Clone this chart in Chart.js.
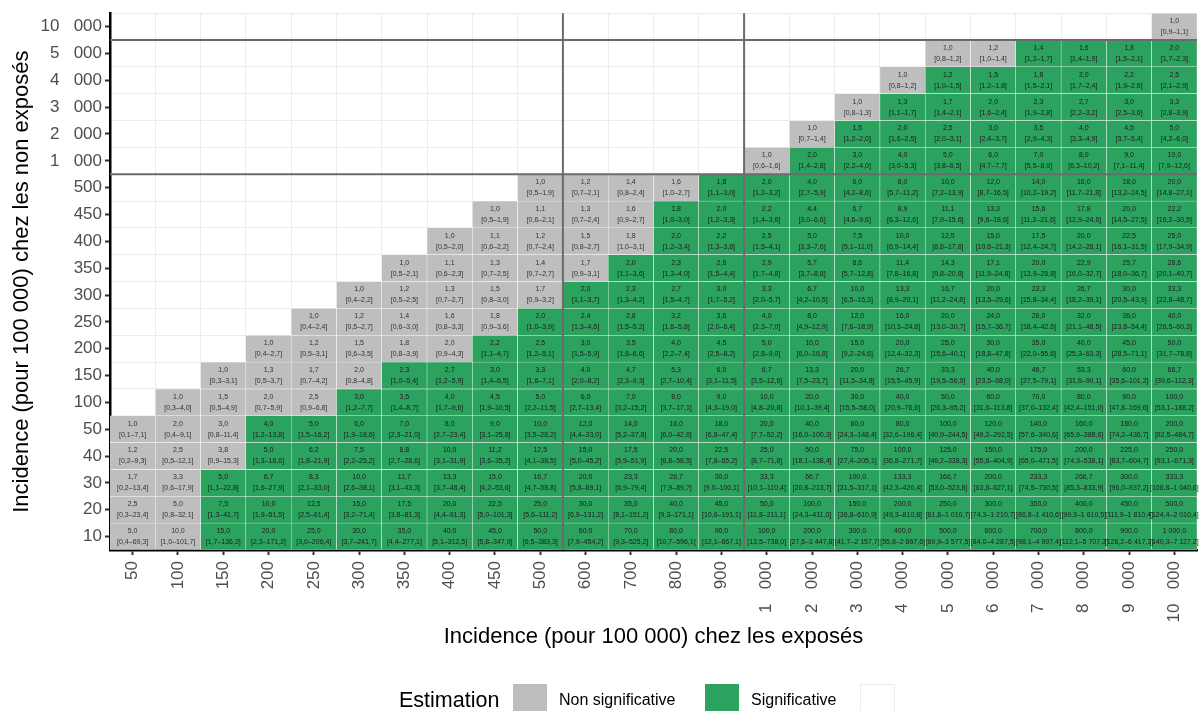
<!DOCTYPE html>
<html>
<head>
<meta charset="utf-8">
<script src="https://cdn.jsdelivr.net/npm/chart.js@4.4.1/dist/chart.umd.min.js"></script>
<style>
  html, body { margin: 0; padding: 0; background: #ffffff; }
  #cadre { width: 1202px; height: 711px; position: relative; }
</style>
</head>
<body>
<div id="cadre"><canvas id="graphique" width="1202" height="711"></canvas></div>
<script>
// Incidence (pour 100 000) chez les exposés : colonnes
const incidenceExposes = [50, 100, 150, 200, 250, 300, 350, 400, 450, 500,
  600, 700, 800, 900, 1000, 2000, 3000, 4000, 5000, 6000, 7000, 8000, 9000, 10000];
// Incidence (pour 100 000) chez les non exposés : lignes, du bas vers le haut
const incidenceNonExposes = [10, 20, 30, 40, 50, 100, 150, 200, 250, 300, 350, 400, 450, 500,
  1000, 2000, 3000, 4000, 5000, 10000];

const GRAND_ESPACE = '   ';
const etiquettesX = ['50', '100', '150', '200', '250', '300', '350', '400', '450', '500',
  '600', '700', '800', '900', '1' + GRAND_ESPACE + '000', '2' + GRAND_ESPACE + '000', '3' + GRAND_ESPACE + '000',
  '4' + GRAND_ESPACE + '000', '5' + GRAND_ESPACE + '000', '6' + GRAND_ESPACE + '000', '7' + GRAND_ESPACE + '000',
  '8' + GRAND_ESPACE + '000', '9' + GRAND_ESPACE + '000', '10' + GRAND_ESPACE + '000'];
const etiquettesY = ['10', '20', '30', '40', '50', '100', '150', '200', '250', '300', '350', '400', '450', '500',
  '1' + GRAND_ESPACE + '000', '2' + GRAND_ESPACE + '000', '3' + GRAND_ESPACE + '000', '4' + GRAND_ESPACE + '000',
  '5' + GRAND_ESPACE + '000', '10' + GRAND_ESPACE + '000'];

// Risque relatif par ligne (chaque ligne se termine à la colonne 10 000)
const rapports = [
  [5.0, 10.0, 15.0, 20.0, 25.0, 30.0, 35.0, 40.0, 45.0, 50.0, 60.0, 70.0, 80.0, 90.0, 100.0, 200.0, 300.0, 400.0, 500.0, 600.0, 700.0, 800.0, 900.0, 1000.0],
  [2.5, 5.0, 7.5, 10.0, 12.5, 15.0, 17.5, 20.0, 22.5, 25.0, 30.0, 35.0, 40.0, 45.0, 50.0, 100.0, 150.0, 200.0, 250.0, 300.0, 350.0, 400.0, 450.0, 500.0],
  [1.7, 3.3, 5.0, 6.7, 8.3, 10.0, 11.7, 13.3, 15.0, 16.7, 20.0, 23.3, 26.7, 30.0, 33.3, 66.7, 100.0, 133.3, 166.7, 200.0, 233.3, 266.7, 300.0, 333.3],
  [1.2, 2.5, 3.8, 5.0, 6.2, 7.5, 8.8, 10.0, 11.2, 12.5, 15.0, 17.5, 20.0, 22.5, 25.0, 50.0, 75.0, 100.0, 125.0, 150.0, 175.0, 200.0, 225.0, 250.0],
  [1.0, 2.0, 3.0, 4.0, 5.0, 6.0, 7.0, 8.0, 9.0, 10.0, 12.0, 14.0, 16.0, 18.0, 20.0, 40.0, 60.0, 80.0, 100.0, 120.0, 140.0, 160.0, 180.0, 200.0],
  [1.0, 1.5, 2.0, 2.5, 3.0, 3.5, 4.0, 4.5, 5.0, 6.0, 7.0, 8.0, 9.0, 10.0, 20.0, 30.0, 40.0, 50.0, 60.0, 70.0, 80.0, 90.0, 100.0],
  [1.0, 1.3, 1.7, 2.0, 2.3, 2.7, 3.0, 3.3, 4.0, 4.7, 5.3, 6.0, 6.7, 13.3, 20.0, 26.7, 33.3, 40.0, 46.7, 53.3, 60.0, 66.7],
  [1.0, 1.2, 1.5, 1.8, 2.0, 2.2, 2.5, 3.0, 3.5, 4.0, 4.5, 5.0, 10.0, 15.0, 20.0, 25.0, 30.0, 35.0, 40.0, 45.0, 50.0],
  [1.0, 1.2, 1.4, 1.6, 1.8, 2.0, 2.4, 2.8, 3.2, 3.6, 4.0, 8.0, 12.0, 16.0, 20.0, 24.0, 28.0, 32.0, 36.0, 40.0],
  [1.0, 1.2, 1.3, 1.5, 1.7, 2.0, 2.3, 2.7, 3.0, 3.3, 6.7, 10.0, 13.3, 16.7, 20.0, 23.3, 26.7, 30.0, 33.3],
  [1.0, 1.1, 1.3, 1.4, 1.7, 2.0, 2.3, 2.6, 2.9, 5.7, 8.6, 11.4, 14.3, 17.1, 20.0, 22.9, 25.7, 28.6],
  [1.0, 1.1, 1.2, 1.5, 1.8, 2.0, 2.2, 2.5, 5.0, 7.5, 10.0, 12.5, 15.0, 17.5, 20.0, 22.5, 25.0],
  [1.0, 1.1, 1.3, 1.6, 1.8, 2.0, 2.2, 4.4, 6.7, 8.9, 11.1, 13.3, 15.6, 17.8, 20.0, 22.2],
  [1.0, 1.2, 1.4, 1.6, 1.8, 2.0, 4.0, 6.0, 8.0, 10.0, 12.0, 14.0, 16.0, 18.0, 20.0],
  [1.0, 2.0, 3.0, 4.0, 5.0, 6.0, 7.0, 8.0, 9.0, 10.0],
  [1.0, 1.5, 2.0, 2.5, 3.0, 3.5, 4.0, 4.5, 5.0],
  [1.0, 1.3, 1.7, 2.0, 2.3, 2.7, 3.0, 3.3],
  [1.0, 1.2, 1.5, 1.8, 2.0, 2.2, 2.5],
  [1.0, 1.2, 1.4, 1.6, 1.8, 2.0],
  [1.0]
];

// Borne basse de l'intervalle de confiance
const icBas = [
  [0.4, 1.0, 1.7, 2.3, 3.0, 3.7, 4.4, 5.1, 5.8, 6.5, 7.9, 9.3, 10.7, 12.1, 13.5, 27.6, 41.7, 55.8, 69.9, 84.0, 98.1, 112.1, 126.2, 140.3],
  [0.3, 0.8, 1.3, 1.9, 2.5, 3.2, 3.8, 4.4, 5.0, 5.6, 6.9, 8.1, 9.3, 10.6, 11.8, 24.3, 36.8, 49.3, 61.8, 74.3, 86.8, 99.3, 111.9, 124.4],
  [0.2, 0.6, 1.1, 1.6, 2.1, 2.6, 3.1, 3.7, 4.2, 4.7, 5.8, 6.9, 7.9, 9.0, 10.1, 20.8, 31.5, 42.3, 53.0, 63.8, 74.5, 85.3, 96.0, 106.8],
  [0.2, 0.5, 0.9, 1.3, 1.8, 2.2, 2.7, 3.1, 3.6, 4.1, 5.0, 5.9, 6.8, 7.8, 8.7, 18.1, 27.4, 36.8, 46.2, 55.6, 65.0, 74.3, 83.7, 93.1],
  [0.1, 0.4, 0.8, 1.2, 1.5, 1.9, 2.3, 2.7, 3.1, 3.5, 4.4, 5.2, 6.0, 6.8, 7.7, 16.0, 24.3, 32.6, 40.9, 49.2, 57.6, 65.9, 74.2, 82.5],
  [0.3, 0.5, 0.7, 0.9, 1.2, 1.4, 1.7, 1.9, 2.2, 2.7, 3.2, 3.7, 4.3, 4.8, 10.1, 15.5, 20.9, 26.3, 31.6, 37.0, 42.4, 47.8, 53.1],
  [0.3, 0.5, 0.7, 0.8, 1.0, 1.2, 1.4, 1.6, 2.0, 2.3, 2.7, 3.1, 3.5, 7.5, 11.5, 15.5, 19.5, 23.5, 27.5, 31.6, 35.6, 39.6],
  [0.4, 0.5, 0.6, 0.8, 0.9, 1.1, 1.2, 1.5, 1.8, 2.2, 2.5, 2.8, 6.0, 9.2, 12.4, 15.6, 18.8, 22.0, 25.3, 28.5, 31.7],
  [0.4, 0.5, 0.6, 0.8, 0.9, 1.0, 1.3, 1.5, 1.8, 2.0, 2.3, 4.9, 7.6, 10.3, 13.0, 15.7, 18.4, 21.1, 23.8, 26.5],
  [0.4, 0.5, 0.7, 0.8, 0.9, 1.1, 1.3, 1.5, 1.7, 2.0, 4.2, 6.5, 8.9, 11.2, 13.5, 15.8, 18.2, 20.5, 22.8],
  [0.5, 0.6, 0.7, 0.7, 0.9, 1.1, 1.3, 1.5, 1.7, 3.7, 5.7, 7.8, 9.8, 11.9, 13.9, 16.0, 18.0, 20.1],
  [0.5, 0.6, 0.7, 0.8, 1.0, 1.2, 1.3, 1.5, 3.3, 5.1, 6.9, 8.8, 10.6, 12.4, 14.2, 16.1, 17.9],
  [0.5, 0.6, 0.7, 0.9, 1.0, 1.2, 1.4, 3.0, 4.6, 6.3, 7.9, 9.6, 11.2, 12.9, 14.5, 16.2],
  [0.5, 0.7, 0.8, 1.0, 1.1, 1.2, 2.7, 4.2, 5.7, 7.2, 8.7, 10.2, 11.7, 13.2, 14.8],
  [0.6, 1.4, 2.2, 3.0, 3.8, 4.7, 5.5, 6.3, 7.1, 7.9],
  [0.7, 1.2, 1.6, 2.0, 2.4, 2.9, 3.3, 3.7, 4.2],
  [0.8, 1.1, 1.4, 1.6, 1.9, 2.2, 2.5, 2.8],
  [0.8, 1.0, 1.2, 1.5, 1.7, 1.9, 2.1],
  [0.8, 1.0, 1.2, 1.4, 1.5, 1.7],
  [0.9]
];

// Borne haute de l'intervalle de confiance
const icHaut = [
  [69.3, 101.7, 136.2, 171.2, 206.4, 241.7, 277.1, 312.5, 347.9, 383.3, 454.2, 525.2, 596.1, 667.1, 738.0, 1447.8, 2157.7, 2867.6, 3577.5, 4287.5, 4997.4, 5707.3, 6417.3, 7127.2],
  [23.4, 32.1, 41.7, 51.5, 61.4, 71.4, 81.3, 91.3, 101.3, 111.2, 131.2, 151.2, 171.1, 191.1, 211.1, 411.0, 610.9, 810.8, 1010.7, 1210.7, 1410.6, 1610.5, 1810.4, 2010.4],
  [13.4, 17.9, 22.8, 27.9, 33.0, 38.1, 43.3, 48.4, 53.6, 58.8, 69.1, 79.4, 89.7, 100.1, 110.4, 213.7, 317.1, 420.4, 523.8, 627.1, 730.5, 833.9, 937.2, 1040.6],
  [9.3, 12.1, 15.3, 18.6, 21.9, 25.2, 28.6, 31.9, 35.2, 38.5, 45.2, 51.9, 58.5, 65.2, 71.8, 138.4, 205.1, 271.7, 338.3, 404.9, 471.5, 538.1, 604.7, 671.3],
  [7.1, 9.1, 11.4, 13.8, 16.2, 18.6, 21.0, 23.4, 25.8, 28.2, 33.0, 37.8, 42.6, 47.4, 52.2, 100.3, 148.4, 196.4, 244.5, 292.5, 340.6, 388.6, 436.7, 484.7],
  [4.0, 4.9, 5.9, 6.8, 7.7, 8.7, 9.6, 10.5, 11.5, 13.4, 15.2, 17.1, 19.0, 20.8, 39.4, 58.0, 76.6, 95.2, 113.8, 132.4, 151.0, 169.6, 188.2],
  [3.1, 3.7, 4.2, 4.8, 5.4, 5.9, 6.5, 7.1, 8.2, 9.3, 10.4, 11.5, 12.6, 23.7, 34.8, 45.9, 56.9, 68.0, 79.1, 90.1, 101.2, 112.3],
  [2.7, 3.1, 3.5, 3.9, 4.3, 4.7, 5.1, 5.9, 6.6, 7.4, 8.2, 9.0, 16.8, 24.6, 32.3, 40.1, 47.8, 55.6, 63.3, 71.1, 78.8],
  [2.4, 2.7, 3.0, 3.3, 3.6, 3.9, 4.6, 5.2, 5.8, 6.4, 7.0, 12.9, 18.9, 24.8, 30.7, 36.7, 42.6, 48.5, 54.4, 60.3],
  [2.2, 2.5, 2.7, 3.0, 3.2, 3.7, 4.2, 4.7, 5.2, 5.7, 10.5, 15.3, 20.1, 24.8, 29.6, 34.4, 39.1, 43.9, 48.7],
  [2.1, 2.3, 2.5, 2.7, 3.1, 3.6, 4.0, 4.4, 4.8, 8.8, 12.8, 16.8, 20.8, 24.8, 28.8, 32.7, 36.7, 40.7],
  [2.0, 2.2, 2.4, 2.7, 3.1, 3.4, 3.8, 4.1, 7.6, 11.0, 14.4, 17.8, 21.3, 24.7, 28.1, 31.5, 34.9],
  [1.9, 2.1, 2.4, 2.7, 3.0, 3.3, 3.6, 6.6, 9.6, 12.6, 15.6, 18.6, 21.6, 24.6, 27.5, 30.5],
  [1.9, 2.1, 2.4, 2.7, 3.0, 3.2, 5.9, 8.6, 11.2, 13.9, 16.5, 19.2, 21.8, 24.5, 27.1],
  [1.6, 2.8, 4.0, 5.3, 6.5, 7.7, 8.9, 10.2, 11.4, 12.6],
  [1.4, 2.0, 2.5, 3.1, 3.7, 4.3, 4.9, 5.4, 6.0],
  [1.3, 1.7, 2.1, 2.4, 2.8, 3.2, 3.6, 3.9],
  [1.2, 1.5, 1.8, 2.1, 2.4, 2.6, 2.9],
  [1.2, 1.4, 1.7, 1.9, 2.1, 2.3],
  [1.1]
];

// Incidence chez les exposés à partir de laquelle l'estimation devient significative, par ligne
const seuilSignificatif = [150, 150, 150, 200, 200, 300, 350, 450, 500, 600, 700, 800, 800, 900,
  2000, 3000, 4000, 5000, 7000, null];

const VERT = '#2ca25f';
const GRIS = '#bebebe';
const POLICE = '"Liberation Sans", Arial, Helvetica, sans-serif';

function nombreFr(v) {
  const [entier, dec] = v.toFixed(1).split('.');
  return entier.replace(/\B(?=(\d{3})+(?!\d))/g, ' ') + ',' + dec;
}
function debutLigne(r) { return incidenceExposes.length - rapports[r].length; }
function estSignificatif(r, x) { return seuilSignificatif[r] !== null && x >= seuilSignificatif[r]; }

// Une série par ligne : chaque case est une barre flottante [r, r + 1]
const series = incidenceNonExposes.map((y, r) => {
  const debut = debutLigne(r);
  return {
    label: String(y),
    data: incidenceExposes.map((x, j) => (j >= debut ? [r, r + 1] : null)),
    backgroundColor: incidenceExposes.map((x, j) =>
      j < debut ? 'rgba(0,0,0,0)' : (estSignificatif(r, x) ? VERT : GRIS)),
    borderColor: '#ffffff',
    borderWidth: 0.5,
    borderSkipped: false,
    barPercentage: 1,
    categoryPercentage: 1,
    grouped: false,
    xAxisID: 'x',
    yAxisID: 'y'
  };
});

// Texte de chaque case, lignes de séparation, titres et légende
const habillage = {
  id: 'habillage',
  afterDatasetsDraw(chart) {
    const ctx = chart.ctx;
    const zone = chart.chartArea;
    ctx.save();
    ctx.textAlign = 'center';
    ctx.textBaseline = 'middle';
    ctx.font = '7px ' + POLICE;
    chart.data.datasets.forEach((ds, r) => {
      const meta = chart.getDatasetMeta(r);
      const debut = debutLigne(r);
      meta.data.forEach((el, j) => {
        if (j < debut) return;
        const k = j - debut;
        const cx = el.x;
        const cy = (el.y + el.base) / 2;
        ctx.fillStyle = estSignificatif(r, incidenceExposes[j]) ? '#1c1c1c' : '#333333';
        ctx.fillText(nombreFr(rapports[r][k]), cx, cy - 5.5);
        ctx.fillText('[' + nombreFr(icBas[r][k]) + '\u2013' + nombreFr(icHaut[r][k]) + ']', cx, cy + 5.5);
      });
    });

    // Séparations entre les blocs d'échelle
    const sx = chart.scales.x;
    const sy = chart.scales.y;
    ctx.strokeStyle = '#6b6b6b';
    ctx.lineWidth = 2;
    [14, 19].forEach(v => {
      const py = sy.getPixelForValue(v);
      ctx.beginPath(); ctx.moveTo(zone.left, py); ctx.lineTo(zone.right, py); ctx.stroke();
    });
    [9.5, 13.5].forEach(v => {
      const px = sx.getPixelForValue(v);
      ctx.beginPath(); ctx.moveTo(px, zone.top); ctx.lineTo(px, zone.bottom); ctx.stroke();
    });
    ctx.restore();
  },
  afterDraw(chart) {
    const ctx = chart.ctx;
    const zone = chart.chartArea;
    ctx.save();
    ctx.fillStyle = '#000000';
    ctx.textBaseline = 'middle';
    ctx.textAlign = 'center';
    ctx.font = '22px ' + POLICE;
    ctx.fillText('Incidence (pour 100 000) chez les exposés', (zone.left + zone.right) / 2, 637);
    ctx.save();
    ctx.translate(22, (zone.top + zone.bottom) / 2);
    ctx.rotate(-Math.PI / 2);
    ctx.fillText('Incidence (pour 100 000) chez les non exposés', 0, 0);
    ctx.restore();

    // Légende
    ctx.textAlign = 'left';
    ctx.font = '21.5px ' + POLICE;
    ctx.fillText('Estimation', 399, 701);
    ctx.font = '16px ' + POLICE;
    ctx.fillStyle = GRIS; ctx.fillRect(513, 684, 34, 34);
    ctx.fillStyle = '#000000'; ctx.fillText('Non significative', 559, 701);
    ctx.fillStyle = VERT; ctx.fillRect(705, 684, 34, 34);
    ctx.fillStyle = '#000000'; ctx.fillText('Significative', 751, 701);
    ctx.strokeStyle = '#ececec'; ctx.lineWidth = 1;
    ctx.strokeRect(860.5, 684.5, 34, 34);
    ctx.restore();
  }
};

new Chart(document.getElementById('graphique'), {
  type: 'bar',
  data: { labels: etiquettesX, datasets: series },
  options: {
    responsive: false,
    devicePixelRatio: 1,
    animation: false,
    layout: { padding: { left: 0, right: 0, top: 11, bottom: 0 } },
    plugins: { legend: { display: false }, tooltip: { enabled: false }, title: { display: false } },
    scales: {
      x: {
        type: 'category',
        position: 'bottom',
        offset: true,
        grid: { offset: false, drawOnChartArea: false, drawTicks: true, tickLength: 5, tickWidth: 2, tickColor: '#333333' },
        border: { display: true, color: '#000000', width: 2.5 },
        ticks: { autoSkip: false, minRotation: 90, maxRotation: 90, padding: 6, color: '#4d4d4d', font: { family: POLICE, size: 17 } },
        afterFit(scale) { scale.height = 161; }
      },
      xGrille: {
        type: 'category',
        position: 'top',
        offset: true,
        grid: { offset: true, color: '#ececec', lineWidth: 1, drawTicks: false },
        border: { display: false },
        ticks: { display: false },
        afterFit(scale) { scale.height = 0; }
      },
      y: {
        type: 'linear',
        position: 'right',
        min: 0,
        max: incidenceNonExposes.length,
        grid: { color: '#ececec', lineWidth: 1, drawTicks: false },
        border: { display: false },
        ticks: { display: false, stepSize: 1 },
        afterFit(scale) { scale.width = 5; }
      },
      yEtiquettes: {
        type: 'linear',
        position: 'left',
        min: 0,
        max: incidenceNonExposes.length,
        afterBuildTicks(scale) { scale.ticks = incidenceNonExposes.map((v, i) => ({ value: i + 0.5 })); },
        grid: { drawOnChartArea: false, drawTicks: true, tickLength: 5, tickWidth: 2, tickColor: '#333333' },
        border: { display: true, color: '#000000', width: 2.5 },
        ticks: {
          autoSkip: false,
          padding: 3,
          color: '#4d4d4d',
          font: { family: POLICE, size: 17 },
          callback(value, index) { return etiquettesY[index]; }
        },
        afterFit(scale) { scale.width = 110; }
      }
    }
  },
  plugins: [habillage]
});
</script>
</body>
</html>
